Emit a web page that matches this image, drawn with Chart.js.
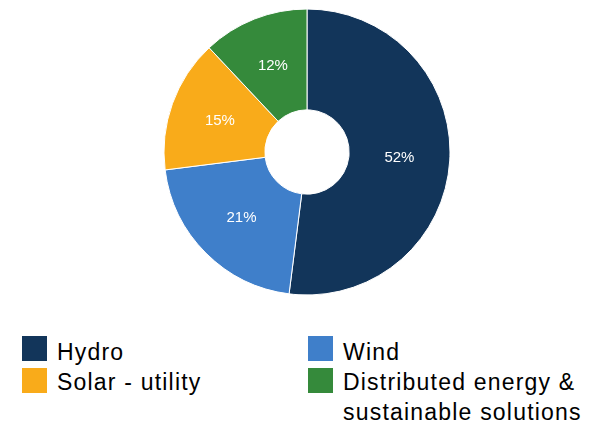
<!DOCTYPE html>
<html>
<head>
<meta charset="utf-8">
<script src="https://cdn.jsdelivr.net/npm/chart.js@4/dist/chart.umd.min.js"></script>
<style>
  html, body { margin: 0; padding: 0; background: #fff; }
  body { width: 593px; height: 425px; position: relative; overflow: hidden; font-family: "Liberation Sans", Arial, sans-serif; }
  #wrap { position: absolute; left: 0; top: 0; width: 593px; height: 305px; }
  .leg { position: absolute; font-size: 23px; line-height: 30px; letter-spacing: 1.2px; color: #000; }
  .sw { position: absolute; width: 25px; height: 25px; }
  .lt { position: absolute; white-space: nowrap; }
</style>
</head>
<body>
<div id="wrap"><canvas id="c" width="593" height="305"></canvas></div>
<div id="legend"></div>
<script>
const categories = ["Hydro", "Wind", "Solar - utility", "Distributed energy & sustainable solutions"];
const legendLabels = ["Hydro", "Wind", "Solar - utility", "Distributed energy &<br>sustainable solutions"];
const values = [52, 21, 15, 12];
const colors = ["#12355a", "#3f7fca", "#f9ab1a", "#358a3b"];

// legend (2 columns, legend order: Hydro, Wind / Solar, Distributed)
const legPos = [
  {sx: 22, sy: 336, tx: 57, ty: 336.5},
  {sx: 308, sy: 336, tx: 343, ty: 336.5},
  {sx: 22, sy: 368, tx: 57, ty: 366.5},
  {sx: 308, sy: 368, tx: 343, ty: 366.5}
];
const legend = document.getElementById('legend');
categories.forEach((c, i) => {
  const p = legPos[i];
  const sw = document.createElement('div');
  sw.className = 'sw';
  sw.style.left = p.sx + 'px'; sw.style.top = p.sy + 'px';
  sw.style.background = colors[i];
  legend.appendChild(sw);
  const t = document.createElement('div');
  t.className = 'leg lt';
  t.style.left = p.tx + 'px'; t.style.top = p.ty + 'px';
  t.innerHTML = legendLabels[i];
  legend.appendChild(t);
});

const labelPlugin = {
  id: 'sliceLabels',
  afterDatasetsDraw(chart) {
    const ctx = chart.ctx;
    const meta = chart.getDatasetMeta(0);
    ctx.save();
    ctx.fillStyle = '#ffffff';
    ctx.font = '15px "Liberation Sans", Arial, sans-serif';
    ctx.textAlign = 'center';
    ctx.textBaseline = 'middle';
    meta.data.forEach((arc, i) => {
      const a = (arc.startAngle + arc.endAngle) / 2;
      const r = (arc.innerRadius + arc.outerRadius) / 2;
      const x = arc.x + Math.cos(a) * r;
      const y = arc.y + Math.sin(a) * r;
      ctx.fillText(values[i] + '%', x, y);
    });
    ctx.restore();
  }
};

new Chart(document.getElementById('c'), {
  type: 'doughnut',
  data: {
    labels: categories,
    datasets: [{
      data: values,
      backgroundColor: colors,
      borderColor: '#ffffff',
      borderWidth: 1,
      radius: 143,
      cutout: 42
    }]
  },
  options: {
    responsive: false,
    animation: false,
    layout: { padding: { left: 21, right: 0, top: 9, bottom: 10 } },
    plugins: { legend: { display: false }, tooltip: { enabled: false } }
  },
  plugins: [labelPlugin]
});
</script>
</body>
</html>
